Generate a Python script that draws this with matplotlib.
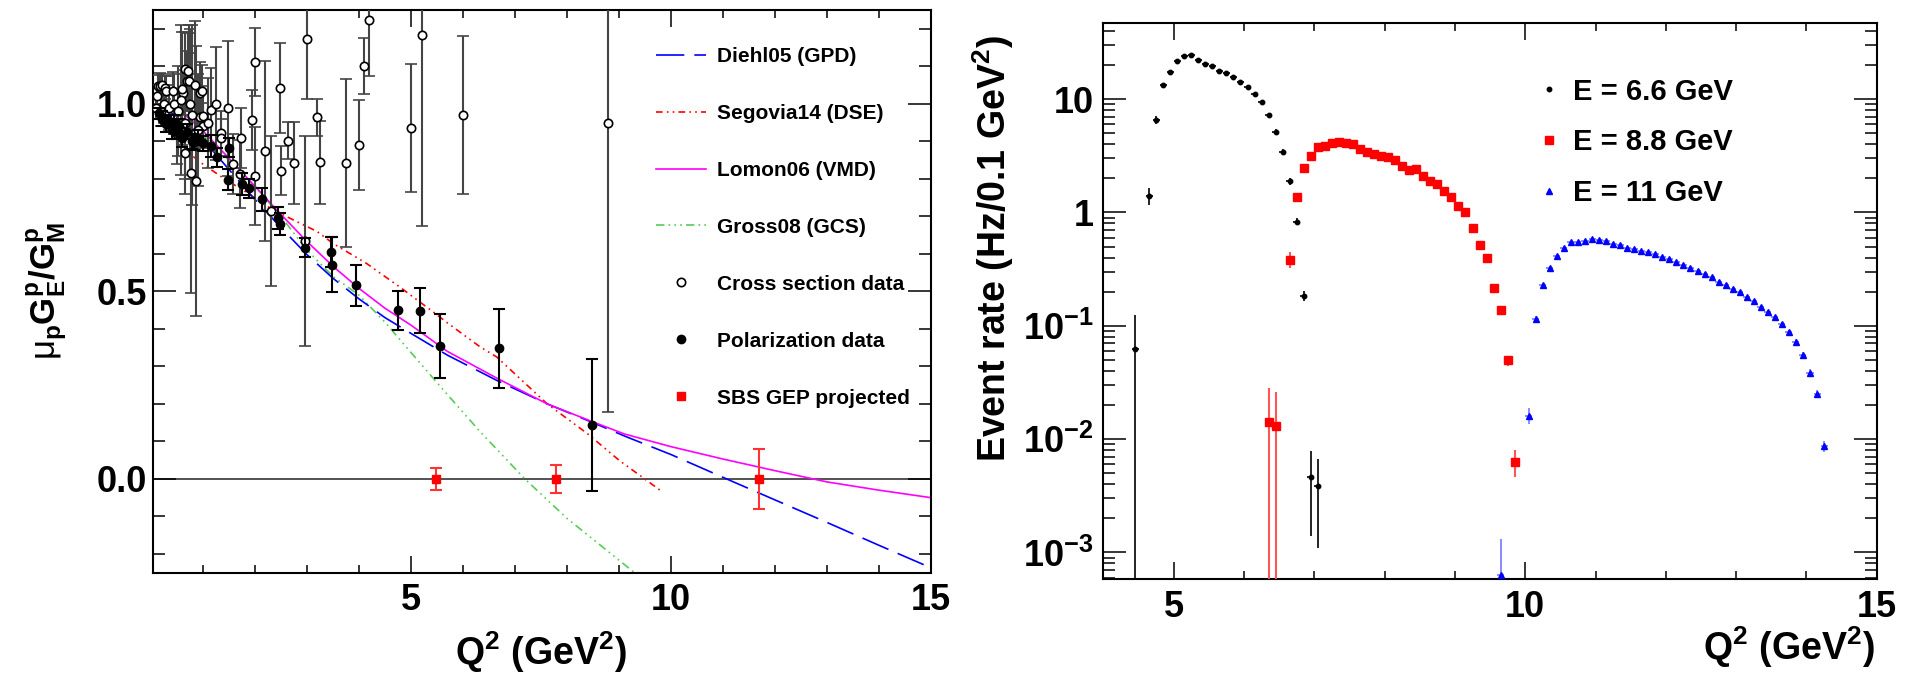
import matplotlib
matplotlib.use("Agg")
import matplotlib.pyplot as plt
from matplotlib.lines import Line2D
from matplotlib.ticker import MultipleLocator, FixedLocator, FuncFormatter, NullFormatter

plt.rcParams['font.family'] = ['Liberation Sans', 'DejaVu Sans']
plt.rcParams['font.weight'] = 'bold'
plt.rcParams['mathtext.fontset'] = 'custom'
plt.rcParams['mathtext.rm'] = 'Liberation Sans:bold'
plt.rcParams['mathtext.bf'] = 'Liberation Sans:bold'
plt.rcParams['mathtext.it'] = 'Liberation Sans:regular'

# ---- left panel: model curves (Q2, muGE/GM) ----
diehl_q2 = [0.05, 0.4, 0.7, 1.0, 1.5, 2.0, 2.5, 3.0, 3.5, 4.0, 4.5, 5.0, 5.7, 6.66,
            7.62, 8.5, 9.13, 10.0, 11.07, 12.0, 13.0, 14.0, 15.0]
diehl_val = [0.997, 0.975, 0.948, 0.905, 0.825, 0.745, 0.67, 0.598, 0.535, 0.48, 0.43,
             0.388, 0.33, 0.262, 0.2, 0.15, 0.113, 0.065, 0.0, -0.056, -0.116, -0.177, -0.237]

segovia_q2 = [0.04, 0.17, 0.37, 0.55, 0.94, 1.36, 1.78, 2.19, 2.67, 3.19, 3.51, 4.15,
              4.79, 5.43, 5.71, 6.33, 6.65, 7.62, 8.4, 9.0, 9.83]
segovia_val = [1.0, 0.96, 0.915, 0.89, 0.845, 0.805, 0.769, 0.73, 0.695, 0.66, 0.627,
               0.574, 0.511, 0.445, 0.415, 0.352, 0.325, 0.2, 0.12, 0.05, -0.034]

lomon_q2 = [0.05, 0.4, 0.7, 1.0, 1.5, 2.0, 2.5, 3.0, 3.5, 4.0, 4.5, 5.0, 5.7, 6.66,
            7.62, 8.5, 9.1, 10.0, 11.0, 12.0, 12.6, 13.0, 14.0, 15.0]
lomon_val = [1.0, 0.99, 0.965, 0.928, 0.855, 0.78, 0.705, 0.633, 0.567, 0.508, 0.455,
             0.41, 0.34, 0.268, 0.2, 0.152, 0.12, 0.086, 0.053, 0.022, 0.004, -0.008,
             -0.03, -0.05]

gross_q2 = [0.05, 0.4, 0.9, 1.5, 2.0, 2.5, 3.0, 3.5, 4.0, 4.5, 5.0, 5.7, 6.33, 7.19,
            8.0, 9.3]
gross_val = [1.0, 0.982, 0.93, 0.85, 0.78, 0.7, 0.61, 0.54, 0.49, 0.418, 0.337, 0.225,
             0.126, 0.0, -0.105, -0.25]

# ---- left panel: data ----
cs_q2 = [0.14, 0.17, 0.22, 0.27, 0.30, 0.43, 0.62, 0.65, 0.69, 0.72, 0.65, 0.78, 0.86,
         0.94, 0.94, 0.98, 1.01, 1.01, 1.16, 1.34, 1.35, 1.49, 1.57, 1.74, 1.71, 1.94,
         2.00, 2.00, 2.19, 2.30, 2.49, 2.50, 2.64, 2.75, 2.96, 3.01, 3.19, 3.25, 3.75,
         4.00, 4.10, 4.19, 5.00, 5.21, 6.00, 8.79,
         0.10, 0.12, 0.20, 0.25, 0.35, 0.45, 0.50, 0.52, 0.58, 0.59, 0.66, 0.74, 0.75,
         0.80, 0.85, 0.90, 1.10, 1.25]
cs_val = [1.048, 1.048, 1.05, 1.043, 1.034, 1.034, 1.03, 1.092, 1.061, 1.088, 0.87,
          0.815, 0.795, 1.03, 0.965, 1.033, 0.968, 0.941, 0.984, 0.921, 0.91, 0.988,
          0.84, 0.908, 0.813, 0.957, 1.112, 0.808, 0.875, 0.714, 1.043, 0.822, 0.902,
          0.842, 0.634, 1.172, 0.964, 0.844, 0.842, 0.891, 1.101, 1.223, 0.935, 1.183,
          0.97, 0.948,
          0.99, 1.02, 0.98, 1.0, 0.99, 1.0, 0.92, 0.98, 1.01, 1.04, 0.95, 1.06, 1.0,
          0.97, 1.05, 0.93, 0.95, 1.0]
cs_err = [0.03, 0.035, 0.03, 0.03, 0.04, 0.05, 0.06, 0.1, 0.08, 0.1, 0.11, 0.32, 0.36,
          0.08, 0.06, 0.07, 0.08, 0.06, 0.11, 0.06, 0.05, 0.18, 0.08, 0.08, 0.09, 0.08,
          0.09, 0.13, 0.24, 0.2, 0.12, 0.065, 0.05, 0.11, 0.28, 0.16, 0.05, 0.11, 0.224,
          0.12, 0.075, 0.15, 0.17, 0.51, 0.21, 0.77,
          0.03, 0.03, 0.04, 0.05, 0.06, 0.08, 0.08, 0.12, 0.2, 0.15, 0.15, 0.15, 0.2,
          0.24, 0.17, 0.15, 0.12, 0.15]

pol_q2 = [0.16, 0.22, 0.3, 0.35, 0.4, 0.45, 0.5, 0.55, 0.6, 0.7, 0.8, 0.82, 0.9, 1.0,
          1.16, 1.28, 1.49, 1.51, 1.75, 1.88, 2.13, 2.45, 2.48, 2.97, 3.47, 3.49, 3.95,
          4.75, 5.17, 5.56, 6.7, 8.49]
pol_val = [0.975, 0.96, 0.945, 0.955, 0.93, 0.95, 0.925, 0.94, 0.91, 0.925, 0.9, 0.897,
           0.91, 0.895, 0.888, 0.857, 0.798, 0.883, 0.786, 0.775, 0.745, 0.696, 0.68,
           0.616, 0.605, 0.571, 0.516, 0.449, 0.448, 0.354, 0.348, 0.144]
pol_err = [0.015, 0.02, 0.02, 0.015, 0.025, 0.02, 0.02, 0.02, 0.025, 0.02, 0.02, 0.02,
           0.02, 0.02, 0.03, 0.025, 0.027, 0.025, 0.03, 0.025, 0.03, 0.03, 0.03, 0.025,
           0.04, 0.073, 0.055, 0.052, 0.06, 0.085, 0.105, 0.175]

sbs_q2 = [5.49, 7.79, 11.70]
sbs_val = [0.0, 0.0, 0.0]
sbs_err = [0.03, 0.038, 0.081]

# ---- right panel: event rates (Hz / 0.1 GeV^2) ----
e66_q2 = [4.45, 4.65, 4.75, 4.85, 4.95, 5.05, 5.15, 5.25, 5.35, 5.45, 5.55, 5.65, 5.75,
          5.85, 5.95, 6.05, 6.15, 6.25, 6.35, 6.45, 6.55, 6.65, 6.75, 6.85, 6.95, 7.05]
e66_rate = [0.062, 1.41, 6.56, 13.2, 17.3, 21.9, 23.8, 24.3, 22.1, 20.5, 19.5, 17.8,
            17.1, 15.7, 14.1, 12.8, 11.1, 9.47, 7.22, 5.18, 3.41, 1.88, 0.83, 0.184,
            0.0046, 0.0039]
e66_err = [0.063, 0.24, 0.5, 0.6, 0.6, 0.7, 0.7, 0.7, 0.6, 0.6, 0.6, 0.5, 0.5, 0.5, 0.4,
           0.4, 0.4, 0.3, 0.3, 0.25, 0.2, 0.12, 0.06, 0.02, 0.0032, 0.0028]

e88_q2 = [6.35, 6.45, 6.65, 6.75, 6.85, 6.95, 7.05, 7.15, 7.25, 7.35, 7.45, 7.55, 7.65,
          7.75, 7.85, 7.95, 8.05, 8.15, 8.25, 8.35, 8.45, 8.55, 8.65, 8.75, 8.85, 8.95,
          9.05, 9.15, 9.25, 9.35, 9.45, 9.55, 9.65, 9.75, 9.85]
e88_rate = [0.01426, 0.01315, 0.383, 1.375, 2.48, 3.12, 3.82, 3.90, 4.14, 4.23, 4.14,
            4.06, 3.64, 3.45, 3.31, 3.16, 3.06, 2.88, 2.55, 2.39, 2.44, 2.12, 1.91, 1.80,
            1.56, 1.375, 1.145, 1.0, 0.723, 0.519, 0.399, 0.214, 0.139, 0.0495, 0.00634]
e88_err = [0.0141, 0.0131, 0.062, 0.1, 0.12, 0.13, 0.14, 0.14, 0.14, 0.14, 0.14, 0.13,
           0.12, 0.12, 0.11, 0.11, 0.1, 0.1, 0.09, 0.09, 0.09, 0.08, 0.07, 0.07, 0.06,
           0.06, 0.05, 0.05, 0.04, 0.03, 0.03, 0.02, 0.012, 0.005, 0.0017]

e11_q2 = [9.65, 10.05, 10.15, 10.25, 10.35, 10.45, 10.55, 10.65, 10.75, 10.85, 10.95,
          11.05, 11.15, 11.25, 11.35, 11.45, 11.55, 11.65, 11.75, 11.85, 11.95, 12.05,
          12.15, 12.25, 12.35, 12.45, 12.55, 12.65, 12.75, 12.85, 12.95, 13.05, 13.15,
          13.25, 13.35, 13.45, 13.55, 13.65, 13.75, 13.85, 13.95, 14.05, 14.15, 14.25]
e11_rate = [0.000635, 0.0161, 0.115, 0.229, 0.327, 0.412, 0.482, 0.544, 0.544, 0.566,
            0.578, 0.571, 0.555, 0.526, 0.512, 0.485, 0.472, 0.459, 0.447, 0.430, 0.407,
            0.388, 0.365, 0.344, 0.327, 0.306, 0.288, 0.269, 0.245, 0.230, 0.211, 0.197,
            0.178, 0.164, 0.147, 0.133, 0.120, 0.104, 0.0882, 0.0719, 0.0553, 0.0384,
            0.0251, 0.00865]
e11_err = [0.00067, 0.0026, 0.008, 0.01, 0.012, 0.012, 0.013, 0.013, 0.013, 0.013, 0.013,
           0.013, 0.013, 0.012, 0.012, 0.012, 0.012, 0.011, 0.011, 0.011, 0.01, 0.01,
           0.01, 0.009, 0.009, 0.009, 0.008, 0.008, 0.008, 0.007, 0.007, 0.007, 0.006,
           0.006, 0.006, 0.005, 0.005, 0.005, 0.004, 0.004, 0.003, 0.003, 0.002, 0.001]
bin_half = 0.05

LABEL_SIZE = 27
TICK_SIZE = 26


def style_axes(ax, xpad, ypad):
    # ROOT look: ticks inside on every side, thick frame
    for sp in ax.spines.values():
        sp.set_linewidth(1.5)
    ax.tick_params(which='both', direction='in', top=True, right=True,
                   labelsize=TICK_SIZE, width=1.1)
    ax.tick_params(axis='x', which='major', length=12.2, pad=xpad)
    ax.tick_params(axis='x', which='minor', length=5.8)
    ax.tick_params(axis='y', which='major', length=16.6, pad=ypad)
    ax.tick_params(axis='y', which='minor', length=8.6)
    for lab in ax.get_xticklabels() + ax.get_yticklabels():
        lab.set_fontweight('bold')


fig = plt.figure(figsize=(19.05, 6.74), dpi=100)

# ===================== left panel =====================
ax1 = fig.add_axes([0.0803, 0.1503, 0.4084, 0.8349])
ax1.axhline(0, color='#333333', lw=1.2, zorder=1)

ax1.plot(gross_q2, gross_val, color='#55cc55', lw=1.2,
         ls=(0, (5, 2.5, 1, 2.5, 1, 2.5, 1, 2.5)), zorder=2)
ax1.plot(segovia_q2, segovia_val, color='#ff0000', lw=1.2,
         ls=(0, (4, 2.5, 1, 2.5, 1, 2.5)), zorder=2)
ax1.plot(diehl_q2, diehl_val, color='#0000ff', lw=1.2, ls=(0, (17, 6)), zorder=2)
ax1.plot(lomon_q2, lomon_val, color='#ff00ff', lw=1.2, zorder=2)

ax1.errorbar(cs_q2, cs_val, yerr=cs_err, fmt='o', ms=6, mfc='white', mec='black',
             mew=1.2, ecolor='#444444', elinewidth=1.5, capsize=4.3, capthick=1.5,
             zorder=3)
ax1.errorbar(pol_q2, pol_val, yerr=pol_err, fmt='o', ms=6, mfc='black', mec='black',
             ecolor='black', elinewidth=1.5, capsize=4.3, capthick=1.5, zorder=4)
ax1.errorbar(sbs_q2, sbs_val, yerr=sbs_err, fmt='s', ms=6, mfc='#ff0000', mec='#ff0000',
             ecolor='#ff3333', elinewidth=1.5, capsize=4.3, capthick=1.5, zorder=5)

ax1.set_xlim(0.04, 15)
ax1.set_ylim(-0.25, 1.25)
ax1.xaxis.set_major_locator(FixedLocator([5, 10, 15]))
ax1.xaxis.set_minor_locator(MultipleLocator(1))
ax1.yaxis.set_major_locator(MultipleLocator(0.5))
ax1.yaxis.set_minor_locator(MultipleLocator(0.1))
ax1.yaxis.set_major_formatter(FuncFormatter(lambda v, p: '%.1f' % v))
ax1.xaxis.set_major_formatter(FuncFormatter(lambda v, p: '%d' % v))
style_axes(ax1, 7.4, 4.5)

fig.text(541 / 1905, 1 - 652 / 674, r'Q$^{\mathbf{2}}$ (GeV$^{\mathbf{2}}$)',
         fontsize=LABEL_SIZE, fontweight='bold', ha='center', va='center')
fig.text(47 / 1905, 1 - 291 / 674,
         r'$\mu_{\mathbf{p}}\mathbf{G}^{\mathbf{p}}_{\mathbf{E}}/\mathbf{G}^{\mathbf{p}}_{\mathbf{M}}$',
         fontsize=25, rotation=90, ha='center', va='center')

left_handles = [
    Line2D([], [], color='#0000ff', lw=1.2, ls=(0, (17, 6))),
    Line2D([], [], color='#ff0000', lw=1.2, ls=(0, (4, 2.5, 1, 2.5, 1, 2.5))),
    Line2D([], [], color='#ff00ff', lw=1.2),
    Line2D([], [], color='#55cc55', lw=1.2, ls=(0, (5, 2.5, 1, 2.5, 1, 2.5, 1, 2.5))),
    Line2D([], [], ls='none', marker='o', ms=6, mfc='white', mec='black', mew=1.2),
    Line2D([], [], ls='none', marker='o', ms=6, mfc='black', mec='black'),
    Line2D([], [], ls='none', marker='s', ms=6, mfc='#ff0000', mec='#ff0000'),
]
left_labels = ['Diehl05 (GPD)', 'Segovia14 (DSE)', 'Lomon06 (VMD)', 'Gross08 (GCS)',
               'Cross section data', 'Polarization data', 'SBS GEP projected']
fig.legend(left_handles, left_labels, loc='upper left',
           bbox_to_anchor=(655.7 / 1905, 1 - 47 / 674), frameon=False,
           prop={'size': 15, 'weight': 'bold'}, handlelength=2.4, handletextpad=0.53,
           labelspacing=1.82, borderpad=0, borderaxespad=0)

# ===================== right panel =====================
ax2 = fig.add_axes([0.5792, 0.1405, 0.4060, 0.8254])
ax2.set_yscale('log')

ax2.errorbar(e66_q2, e66_rate, yerr=e66_err, xerr=bin_half, fmt='o', ms=3.2,
             color='black', ecolor='black', elinewidth=1.2, capsize=0, zorder=3)
ax2.errorbar(e88_q2, e88_rate, yerr=e88_err, xerr=bin_half, fmt='s', ms=5.5,
             color='#ff0000', ecolor='#ff5555', elinewidth=1.5, capsize=0, zorder=3)
ax2.errorbar(e11_q2, e11_rate, yerr=e11_err, xerr=bin_half, fmt='^', ms=4,
             color='#0000ff', ecolor='#7777ff', elinewidth=1.2, capsize=0, zorder=3)

ax2.set_xlim(4, 15)
ax2.set_ylim(5.8e-4, 47)
ax2.xaxis.set_major_locator(FixedLocator([5, 10, 15]))
ax2.xaxis.set_minor_locator(MultipleLocator(1))
ax2.xaxis.set_major_formatter(FuncFormatter(lambda v, p: '%d' % v))

log_ticks = [1e-3, 1e-2, 1e-1, 1, 10]
log_text = [r'$\mathbf{10^{-3}}$', r'$\mathbf{10^{-2}}$', r'$\mathbf{10^{-1}}$', '1', '10']
ax2.yaxis.set_major_locator(FixedLocator(log_ticks))
ax2.yaxis.set_major_formatter(FuncFormatter(
    lambda v, p: log_text[min(range(5), key=lambda i: abs(log_ticks[i] - v))]))
minor_ticks = []
for dec in [1e-4, 1e-3, 1e-2, 1e-1, 1, 10]:
    for k in range(2, 10):
        minor_ticks.append(k * dec)
ax2.yaxis.set_minor_locator(FixedLocator(minor_ticks))
ax2.yaxis.set_minor_formatter(NullFormatter())
style_axes(ax2, 7.7, 7.2)

fig.text(1875 / 1905, 1 - 647 / 674, r'Q$^{\mathbf{2}}$ (GeV$^{\mathbf{2}}$)',
         fontsize=LABEL_SIZE, fontweight='bold', ha='right', va='center')
fig.text(993 / 1905, 1 - 35 / 674, r'Event rate (Hz/0.1 GeV$^{\mathbf{2}}$)',
         fontsize=LABEL_SIZE, fontweight='bold', rotation=90, ha='center', va='top')

right_handles = [
    Line2D([], [], ls='none', marker='o', ms=3.2, color='black'),
    Line2D([], [], ls='none', marker='s', ms=5.5, color='#ff0000'),
    Line2D([], [], ls='none', marker='^', ms=4, color='#0000ff'),
]
right_labels = ['E = 6.6 GeV', 'E = 8.8 GeV', 'E = 11 GeV']
fig.legend(right_handles, right_labels, loc='upper left',
           bbox_to_anchor=(1534.5 / 1905, 1 - 77.5 / 674), frameon=False,
           prop={'size': 21, 'weight': 'bold'}, handlelength=1.0, handletextpad=0.33,
           labelspacing=0.78, borderpad=0, borderaxespad=0)

fig.savefig('out.png', dpi=100)
